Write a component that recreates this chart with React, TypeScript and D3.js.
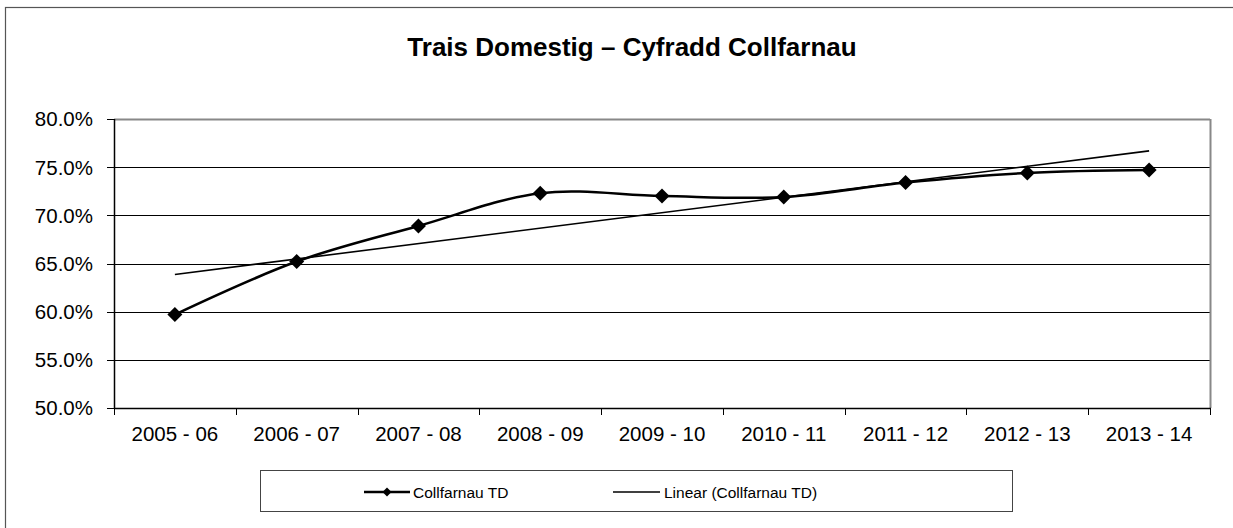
import React from "react";
import * as d3 from "d3";

const categories = ["2005 - 06", "2006 - 07", "2007 - 08", "2008 - 09", "2009 - 10", "2010 - 11", "2011 - 12", "2012 - 13", "2013 - 14"];
const values = [59.7, 65.2, 68.9, 72.3, 72.0, 71.9, 73.4, 74.4, 74.7];
const yTicks = [50, 55, 60, 65, 70, 75, 80];
const title = "Trais Domestig – Cyfradd Collfarnau";
const seriesName = "Collfarnau TD";
const trendName = "Linear (Collfarnau TD)";

const W = 1233, H = 528;
const left = 114, right = 1210, top = 119, bottom = 408;
const FONT = "'Liberation Sans', Arial, sans-serif";

export default function App() {
  const x = d3.scaleBand<string>().domain(categories).range([left, right]).padding(0);
  const y = d3.scaleLinear().domain([50, 80]).range([bottom, top]);
  const cx = (c: string) => (x(c) as number) + x.bandwidth() / 2;

  const pts: [number, number][] = categories.map((c, i) => [cx(c), y(values[i])]);
  const line = d3.line().curve(d3.curveCatmullRom.alpha(0));
  const seriesPath = line(pts) || "";

  // linear regression (Excel trendline)
  const n = values.length;
  const xs = values.map((_, i) => i + 1);
  const mx = d3.mean(xs) as number;
  const my = d3.mean(values) as number;
  const slope = d3.sum(xs.map((xi, i) => (xi - mx) * (values[i] - my))) / d3.sum(xs.map((xi) => (xi - mx) ** 2));
  const icpt = my - slope * mx;
  const trendPath = d3.line()([
    [cx(categories[0]), y(icpt + slope * 1)],
    [cx(categories[n - 1]), y(icpt + slope * n)],
  ]) || "";

  const diamond = (px: number, py: number, r: number) =>
    `M${px},${py - r}L${px + r},${py}L${px},${py + r}L${px - r},${py}Z`;

  const tickXs = [...categories.map((c) => x(c) as number), right];

  return (
    <svg width={W} height={H} style={{ position: "absolute", left: 0, top: 0, background: "#fff" }} fontFamily={FONT}>
      <rect x={0} y={0} width={W} height={H} fill="#fff" />
      <rect x={5.5} y={7.5} width={1400} height={700} fill="none" stroke="#555" strokeWidth={1.2} />
      <text x={632} y={56} textAnchor="middle" fontSize={26} fontWeight="bold" fill="#000">{title}</text>

      {/* gridlines */}
      {yTicks.map((t) => (
        <line key={t} x1={left - 7} x2={right} y1={Math.round(y(t)) + 0.5} y2={Math.round(y(t)) + 0.5} stroke="#000" strokeWidth={1} />
      ))}
      {/* plot border top/right gray */}
      <line x1={left} x2={right} y1={Math.round(top) + 0.5} y2={Math.round(top) + 0.5} stroke="#888" strokeWidth={2} />
      <line x1={right + 0.5} x2={right + 0.5} y1={top} y2={bottom} stroke="#888" strokeWidth={2} />
      {/* axes */}
      <line x1={left + 0.5} x2={left + 0.5} y1={top} y2={bottom + 0.5} stroke="#000" strokeWidth={1.5} />
      <line x1={left} x2={right + 1} y1={Math.round(bottom) + 0.5} y2={Math.round(bottom) + 0.5} stroke="#000" strokeWidth={1.5} />
      {tickXs.map((tx, i) => (
        <line key={i} x1={Math.round(tx) + 0.5} x2={Math.round(tx) + 0.5} y1={bottom} y2={bottom + 7} stroke="#000" strokeWidth={1} />
      ))}

      {yTicks.map((t) => (
        <text key={t} x={93} y={y(t)} dy="0.36em" textAnchor="end" fontSize={20.5} fill="#000">
          {t.toFixed(1)}%
        </text>
      ))}
      {categories.map((c) => (
        <text key={c} x={cx(c)} y={441} textAnchor="middle" fontSize={20.5} fill="#000">{c}</text>
      ))}

      <path d={trendPath} fill="none" stroke="#000" strokeWidth={1.6} />
      <path d={seriesPath} fill="none" stroke="#000" strokeWidth={2.6} />
      {pts.map(([px, py], i) => (
        <path key={i} d={diamond(px, py, 7.5)} fill="#000" />
      ))}

      {/* legend */}
      <rect x={260.5} y={470.5} width={752} height={41} fill="#fff" stroke="#444" strokeWidth={1} />
      <line x1={364} x2={410} y1={492} y2={492} stroke="#000" strokeWidth={2.6} />
      <path d={diamond(387, 492, 4.5)} fill="#000" />
      <text x={413} y={497.5} fontSize={15.5} fill="#000">{seriesName}</text>
      <line x1={613} x2={660} y1={492} y2={492} stroke="#000" strokeWidth={1.5} />
      <text x={664} y={497.5} fontSize={15.5} fill="#000">{trendName}</text>
    </svg>
  );
}
